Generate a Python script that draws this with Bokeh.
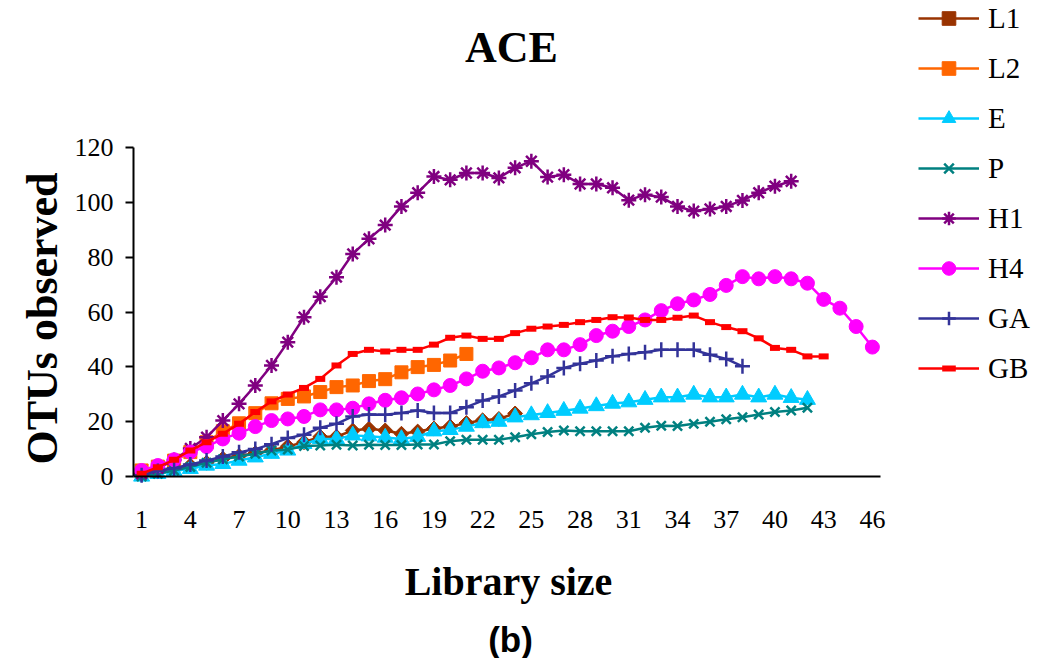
import math
from bokeh.plotting import figure
from bokeh.models import Range1d, FixedTicker, Legend, LegendItem, Label
from bokeh.embed import file_html
from bokeh.resources import INLINE

# ---- data ----
x_ticks = [1, 4, 7, 10, 13, 16, 19, 22, 25, 28, 31, 34, 37, 40, 43, 46]
y_ticks = [0, 20, 40, 60, 80, 100, 120]

L1 = [1, 2, 3, 4, 5, 6.5, 7.5, 8.5, 9.5, 11, 12.5, 14.5, 14.5, 16.8, 17.4, 16.8,
      15.6, 16.4, 17.5, 18.2, 19.5, 20.5, 21, 23]
L2 = [2.2, 3.6, 5.8, 8.9, 12.5, 16.5, 19.4, 23.1, 26.7, 28.3, 29.2, 30.8, 32.6,
      33.2, 34.8, 35.5, 38, 39.9, 40.7, 42.3, 44.7]
E = [0, 1, 2, 2.8, 4, 4.6, 5.8, 7, 8.3, 9.5, 11.9, 13.7, 13.7, 15, 14.7, 14.2,
     13.7, 14.5, 16.5, 17, 18.2, 19.5, 20, 21.6, 22.4, 23.2, 24, 24.8, 25.7, 26.6,
     27.1, 28, 28.9, 28.9, 29.9, 28.9, 28.9, 29.9, 28.9, 29.9, 28.7, 28]
P = [0, 1, 2.2, 3.5, 5, 6.3, 7.3, 8.3, 9.5, 9.8, 11.1, 11.3, 11.6, 11.3, 11.6,
     11.5, 11.5, 11.7, 11.7, 12.9, 13.4, 13.4, 13.4, 14.3, 15.4, 16.2, 16.8, 16.5,
     16.5, 16.5, 16.5, 17.8, 18.5, 18.4, 19.2, 20, 20.9, 21.6, 22.6, 23.5, 24.1, 25.1]
H1 = [1, 3, 6, 10.2, 14.3, 20.4, 26.5, 33.2, 40.5, 49, 58.1, 65.6, 72.7, 81.2,
      86.7, 91.7, 98.5, 103.5, 109.4, 108.2, 110.7, 110.7, 108.9, 112.6, 115,
      109.2, 110.1, 106.7, 106.7, 105.3, 100.8, 102.8, 101.9, 98.5, 96.8, 97.6,
      98.5, 100.7, 103.5, 105.9, 107.7]
H4 = [2.2, 4, 6.1, 8.9, 10.9, 13.7, 15.8, 18.2, 20.4, 21, 21.9, 24.3, 24.3, 24.9,
      26.5, 27.8, 28.7, 30.1, 31.6, 33.2, 35.6, 38.4, 39.6, 41.5, 43.3, 46.2, 46.2,
      48.1, 51.4, 53, 54.7, 57.1, 60.5, 63, 64.4, 66.4, 69.7, 72.9, 72.1, 72.9,
      72.1, 70.5, 64.6, 61.4, 54.7, 47.2]
GA = [0.5, 2, 3, 4.4, 5.8, 7.3, 8.8, 10, 11.8, 14, 15.2, 17.8, 19.2, 21.9, 22.6,
      22.5, 23.2, 24.1, 23.2, 23.2, 25.3, 27.7, 29.2, 31.4, 34, 36.5, 39.6, 41.1,
      42.3, 43.9, 44.7, 45.3, 46.2, 46.2, 46.2, 44.4, 42.9, 40.2]
GB = [1, 3.4, 6.1, 9.5, 12.5, 15.6, 19.2, 23.5, 27.4, 29.9, 32.3, 35.6, 40.5,
      44.7, 46.2, 45.6, 46.2, 46.2, 48.1, 50.6, 51.4, 50.2, 50.2, 52.3, 53.9, 54.7,
      55.3, 56.3, 57.1, 58.1, 58, 57.1, 57.1, 57.9, 58.7, 56.3, 54.5, 53, 50.4,
      46.9, 46.2, 43.8, 43.8]

# name, values, colour, marker, size, angle, marker line width
series = [
    ("L1", L1, "#993300", "square", 10.5, 0.785, 1),
    ("L2", L2, "#FF6600", "square", 13, 0, 1),
    ("E", E, "#00CCFF", "triangle", 16, 0, 1),
    ("P", P, "#008080", "x", 13, 0, 2.5),
    ("H1", H1, "#800080", "asterisk", 15, 0, 2.5),
    ("H4", H4, "#FF00FF", "circle", 14, 0, 1),
    ("GA", GA, "#333399", "cross", 15, 0, 2.5),
    ("GB", GB, "#FF0000", "dash", 10, 0, 6),
]

# ---- layout geometry (page pixels) ----
W, H = 1038, 658
AX_LEFT, AX_RIGHT, AX_TOP, AX_BOTTOM = 133, 880, 147, 476
X_LO, X_HI, Y_LO, Y_HI = 0.5, 46.5, 0, 120
px_per_x = (AX_RIGHT - AX_LEFT) / (X_HI - X_LO)
px_per_y = (AX_BOTTOM - AX_TOP) / (Y_HI - Y_LO)


def dx(px):
    return X_LO + (px - AX_LEFT) / px_per_x


def dy(py):
    return Y_LO + (AX_BOTTOM - py) / px_per_y


# the frame fills the whole page; axes sit at fixed positions inside it and
# are bounded to the real plotting area
p = figure(width=W, height=H, output_backend="svg", toolbar_location=None,
           x_range=Range1d(dx(0), dx(W)), y_range=Range1d(dy(H), dy(0)),
           min_border=0)
p.outline_line_color = None
p.xgrid.visible = False
p.ygrid.visible = False
p.background_fill_color = "white"
p.border_fill_color = "white"

items = []
for name, ys, color, marker, size, angle, mlw in series:
    xs = list(range(1, len(ys) + 1))
    r1 = p.line(xs, ys, line_color=color, line_width=2.5)
    if marker in ("x", "asterisk", "cross", "dash"):
        r2 = p.scatter(xs, ys, marker=marker, size=size, line_color=color,
                       line_width=mlw)
    else:
        r2 = p.scatter(xs, ys, marker=marker, size=size, angle=angle,
                       fill_color=color, line_color=color, line_width=mlw)
    items.append(LegendItem(label=name, renderers=[r1, r2]))

legend = Legend(items=items, location=(918, H - 385),
                orientation="vertical",
                glyph_width=61, glyph_height=34, label_height=30, spacing=16,
                label_standoff=9, padding=0, margin=0,
                label_text_font="Liberation Serif", label_text_font_size="29px",
                label_text_color="black", border_line_color=None,
                background_fill_alpha=0)
p.add_layout(legend, "center")

# axes
p.xaxis.ticker = FixedTicker(ticks=x_ticks)
p.yaxis.ticker = FixedTicker(ticks=y_ticks)
p.xaxis.bounds = (X_LO, X_HI)
p.yaxis.bounds = (Y_LO, Y_HI)
p.xaxis.fixed_location = Y_LO
p.yaxis.fixed_location = X_LO
for ax in (p.xaxis[0], p.yaxis[0]):
    ax.axis_line_width = 2
    ax.axis_line_color = "black"
    ax.major_tick_line_width = 2
    ax.major_tick_line_color = "black"
    ax.minor_tick_out = 0
    ax.minor_tick_in = 0
    ax.major_tick_in = 0
    ax.major_label_text_font = "Liberation Serif"
    ax.major_label_text_font_size = "26px"
    ax.major_label_text_color = "black"

p.xaxis.major_tick_out = 0
p.xaxis.major_label_standoff = 34
p.yaxis.major_tick_out = 8
p.yaxis.major_label_standoff = 12

# titles and axis titles
p.add_layout(Label(x=dx(511), y=dy(47), text="ACE",
                   text_align="center", text_baseline="middle",
                   text_font="Liberation Serif", text_font_size="44px",
                   text_font_style="bold", text_color="black"))
p.add_layout(Label(x=dx(42), y=dy(318), text="OTUs observed", angle=math.pi / 2,
                   text_align="center", text_baseline="middle",
                   text_font="Liberation Serif", text_font_size="44px",
                   text_font_style="bold", text_color="black"))
p.add_layout(Label(x=dx(508), y=dy(581), text="Library size",
                   text_align="center", text_baseline="middle",
                   text_font="Liberation Serif", text_font_size="40px",
                   text_font_style="bold", text_color="black"))
p.add_layout(Label(x=dx(510), y=dy(639), text="(b)",
                   text_align="center", text_baseline="middle",
                   text_font="Liberation Sans", text_font_size="35px",
                   text_font_style="bold", text_color="black"))

open("out.html", "w").write(file_html(p, INLINE))
